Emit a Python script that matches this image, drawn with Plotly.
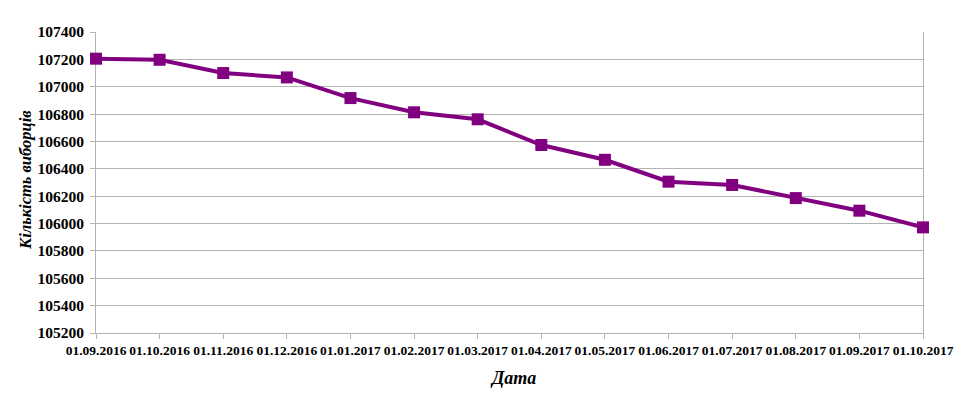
import plotly.graph_objects as go

dates = ["01.09.2016", "01.10.2016", "01.11.2016", "01.12.2016", "01.01.2017",
         "01.02.2017", "01.03.2017", "01.04.2017", "01.05.2017", "01.06.2017",
         "01.07.2017", "01.08.2017", "01.09.2017", "01.10.2017"]
voters = [107205, 107197, 107100, 107068, 106917, 106813, 106762,
          106574, 106466, 106306, 106282, 106186, 106094, 105972]
y_ticks = [105200, 105400, 105600, 105800, 106000, 106200, 106400,
           106600, 106800, 107000, 107200, 107400]

x_idx = list(range(len(dates)))
font_family = "Liberation Serif, Times New Roman, serif"

fig = go.Figure()
fig.add_trace(go.Scatter(
    x=x_idx, y=voters, mode="lines+markers",
    line=dict(color="#800080", width=4),
    marker=dict(symbol="square", size=12, color="#800080"),
    showlegend=False, cliponaxis=False,
))

fig.update_layout(
    width=954, height=397,
    margin=dict(l=88, r=39, t=24, b=72),
    paper_bgcolor="white", plot_bgcolor="white",
    font=dict(family=font_family, color="black"),
    xaxis=dict(
        range=[0, len(dates) - 1], automargin=False, layer="below traces",
        tickvals=x_idx, ticktext=[f"<b>{d}</b>" for d in dates],
        tickfont=dict(size=13.5, family=font_family),
        showgrid=False, zeroline=False,
        showline=True, linecolor="#b3b3b3", linewidth=1,
        ticks="outside", ticklen=5, tickcolor="#b3b3b3",
    ),
    yaxis=dict(
        range=[105200, 107400], automargin=False, layer="below traces",
        tickvals=y_ticks, ticktext=[f"<b>{v}</b>" for v in y_ticks],
        tickfont=dict(size=15.5, family=font_family),
        ticklabelstandoff=3,
        showgrid=True, gridcolor="#b3b3b3", gridwidth=1,
        zeroline=False,
        showline=True, linecolor="#b3b3b3", linewidth=1, mirror=True,
        ticks="outside", ticklen=5, tickcolor="#b3b3b3",
    ),
    annotations=[
        dict(text="<b><i>Дата</i></b>", xref="paper", yref="paper",
             x=0.504, y=-0.1495, showarrow=False, xanchor="center", yanchor="middle",
             font=dict(size=18, family=font_family)),
        dict(text="<b><i>Кількість виборців</i></b>", xref="paper", yref="paper",
             x=-0.0859, y=0.508, showarrow=False, xanchor="center", yanchor="middle",
             textangle=-90, font=dict(size=16.5, family=font_family)),
    ],
)

fig.write_html("out.html")
